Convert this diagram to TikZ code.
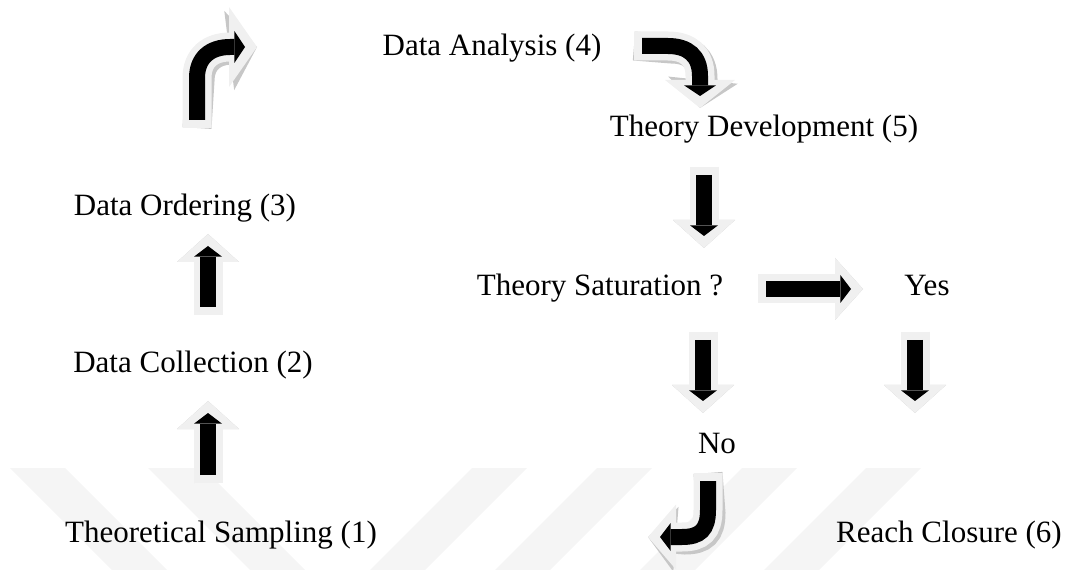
\documentclass[tikz,border=0pt]{standalone}
\usepackage{fontspec}
\setmainfont{Liberation Serif}
\newfontfamily\stagefont{Liberation Serif}
\usetikzlibrary{arrows.meta}

\tikzset{
  stage/.style={font=\stagefont\fontsize{23.25}{28}\selectfont, inner sep=0pt, anchor=base},
  wmark/.style={fill=black!4},
  outerarrow/.style={line width=21.75pt, draw=black!6,
    -{Triangle[length=21pt, width=#1, line width=0pt]}},
  shadowarrow/.style={outerarrow={#1}, draw=black!22, xshift=2.25pt, yshift=-2.25pt},
  innerarrow/.style={line width=12pt, draw=black, shorten <=6pt, shorten >=9pt,
    -{Triangle[length=8pt, width=#1, line width=0pt]}}
}

% block arrow: light grey arrow with shadow, black arrow inside
\newcommand*{\dblarrow}[3]{%
\draw[shadowarrow={#2}] #1;
\draw[outerarrow={#2}] #1;
\draw[innerarrow={#3}] #1;}

\begin{document}
\begin{tikzpicture}[x=0.75pt, y=-0.75pt]
\useasboundingbox (0,0) rectangle (1068,570);

% faint watermark bands
\foreach \xa/\dx in {10/102, 148/102, 472/-102, 597/-102, 742/-102, 866/-102}
  \fill[wmark] (\xa,468) -- ++(55,0) -- ++(\dx,102) -- ++(-55,0) -- cycle;

% stages
\node[stage] (da)  at (492,56)  {Data Analysis (4)};
\node[stage] (td)  at (764,137) {Theory Development (5)};
\node[stage] (do)  at (185,216) {Data Ordering (3)};
\node[stage] (sat) at (600,296) {Theory Saturation ?};
\node[stage] (yes) at (927,296) {Yes};
\node[stage] (dc)  at (193,373) {Data Collection (2)};
\node[stage] (no)  at (717,453) {No};
\node[stage] (ts)  at (221,542) {Theoretical Sampling (1)};
\node[stage] (rc)  at (949,542) {Reach Closure (6)};

% arrow ends
\coordinate (ts-s) at (208,483);  \coordinate (ts-e) at (208,401);
\coordinate (dc-s) at (208,315);  \coordinate (dc-e) at (208,234);
\coordinate (do-s) at (197,128);  \coordinate (do-e) at (257,47);
\coordinate (da-s) at (634,46);   \coordinate (da-e) at (700,108);
\coordinate (td-s) at (704,167);  \coordinate (td-e) at (704,248);
\coordinate (sat-s) at (758,289); \coordinate (sat-e) at (863,289);
\coordinate (no-s) at (703,332);  \coordinate (no-e) at (703,413);
\coordinate (yes-s) at (915,332); \coordinate (yes-e) at (915,413);
\coordinate (j-s) at (708,473);   \coordinate (j-e) at (648,537);

\dblarrow{(ts-s) -- (ts-e)}{46.5pt}{21pt}
\dblarrow{(dc-s) -- (dc-e)}{46.5pt}{21pt}
\dblarrow{(do-s) -- (197,78) .. controls (197,58) and (210,47) .. (230,47) -- (do-e)}{60pt}{24pt}
\dblarrow{(da-s) -- (668,46) .. controls (688,46) and (700,56) .. (700,76) -- (da-e)}{52.5pt}{24pt}
\dblarrow{(td-s) -- (td-e)}{46.5pt}{21pt}
\dblarrow{(sat-s) -- (sat-e)}{46.5pt}{21pt}
\dblarrow{(no-s) -- (no-e)}{46.5pt}{21pt}
\dblarrow{(yes-s) -- (yes-e)}{46.5pt}{21pt}
\dblarrow{(j-s) -- (708,510) .. controls (708,530) and (700,537) .. (682,537) -- (j-e)}{48.75pt}{21pt}

\end{tikzpicture}
\end{document}
